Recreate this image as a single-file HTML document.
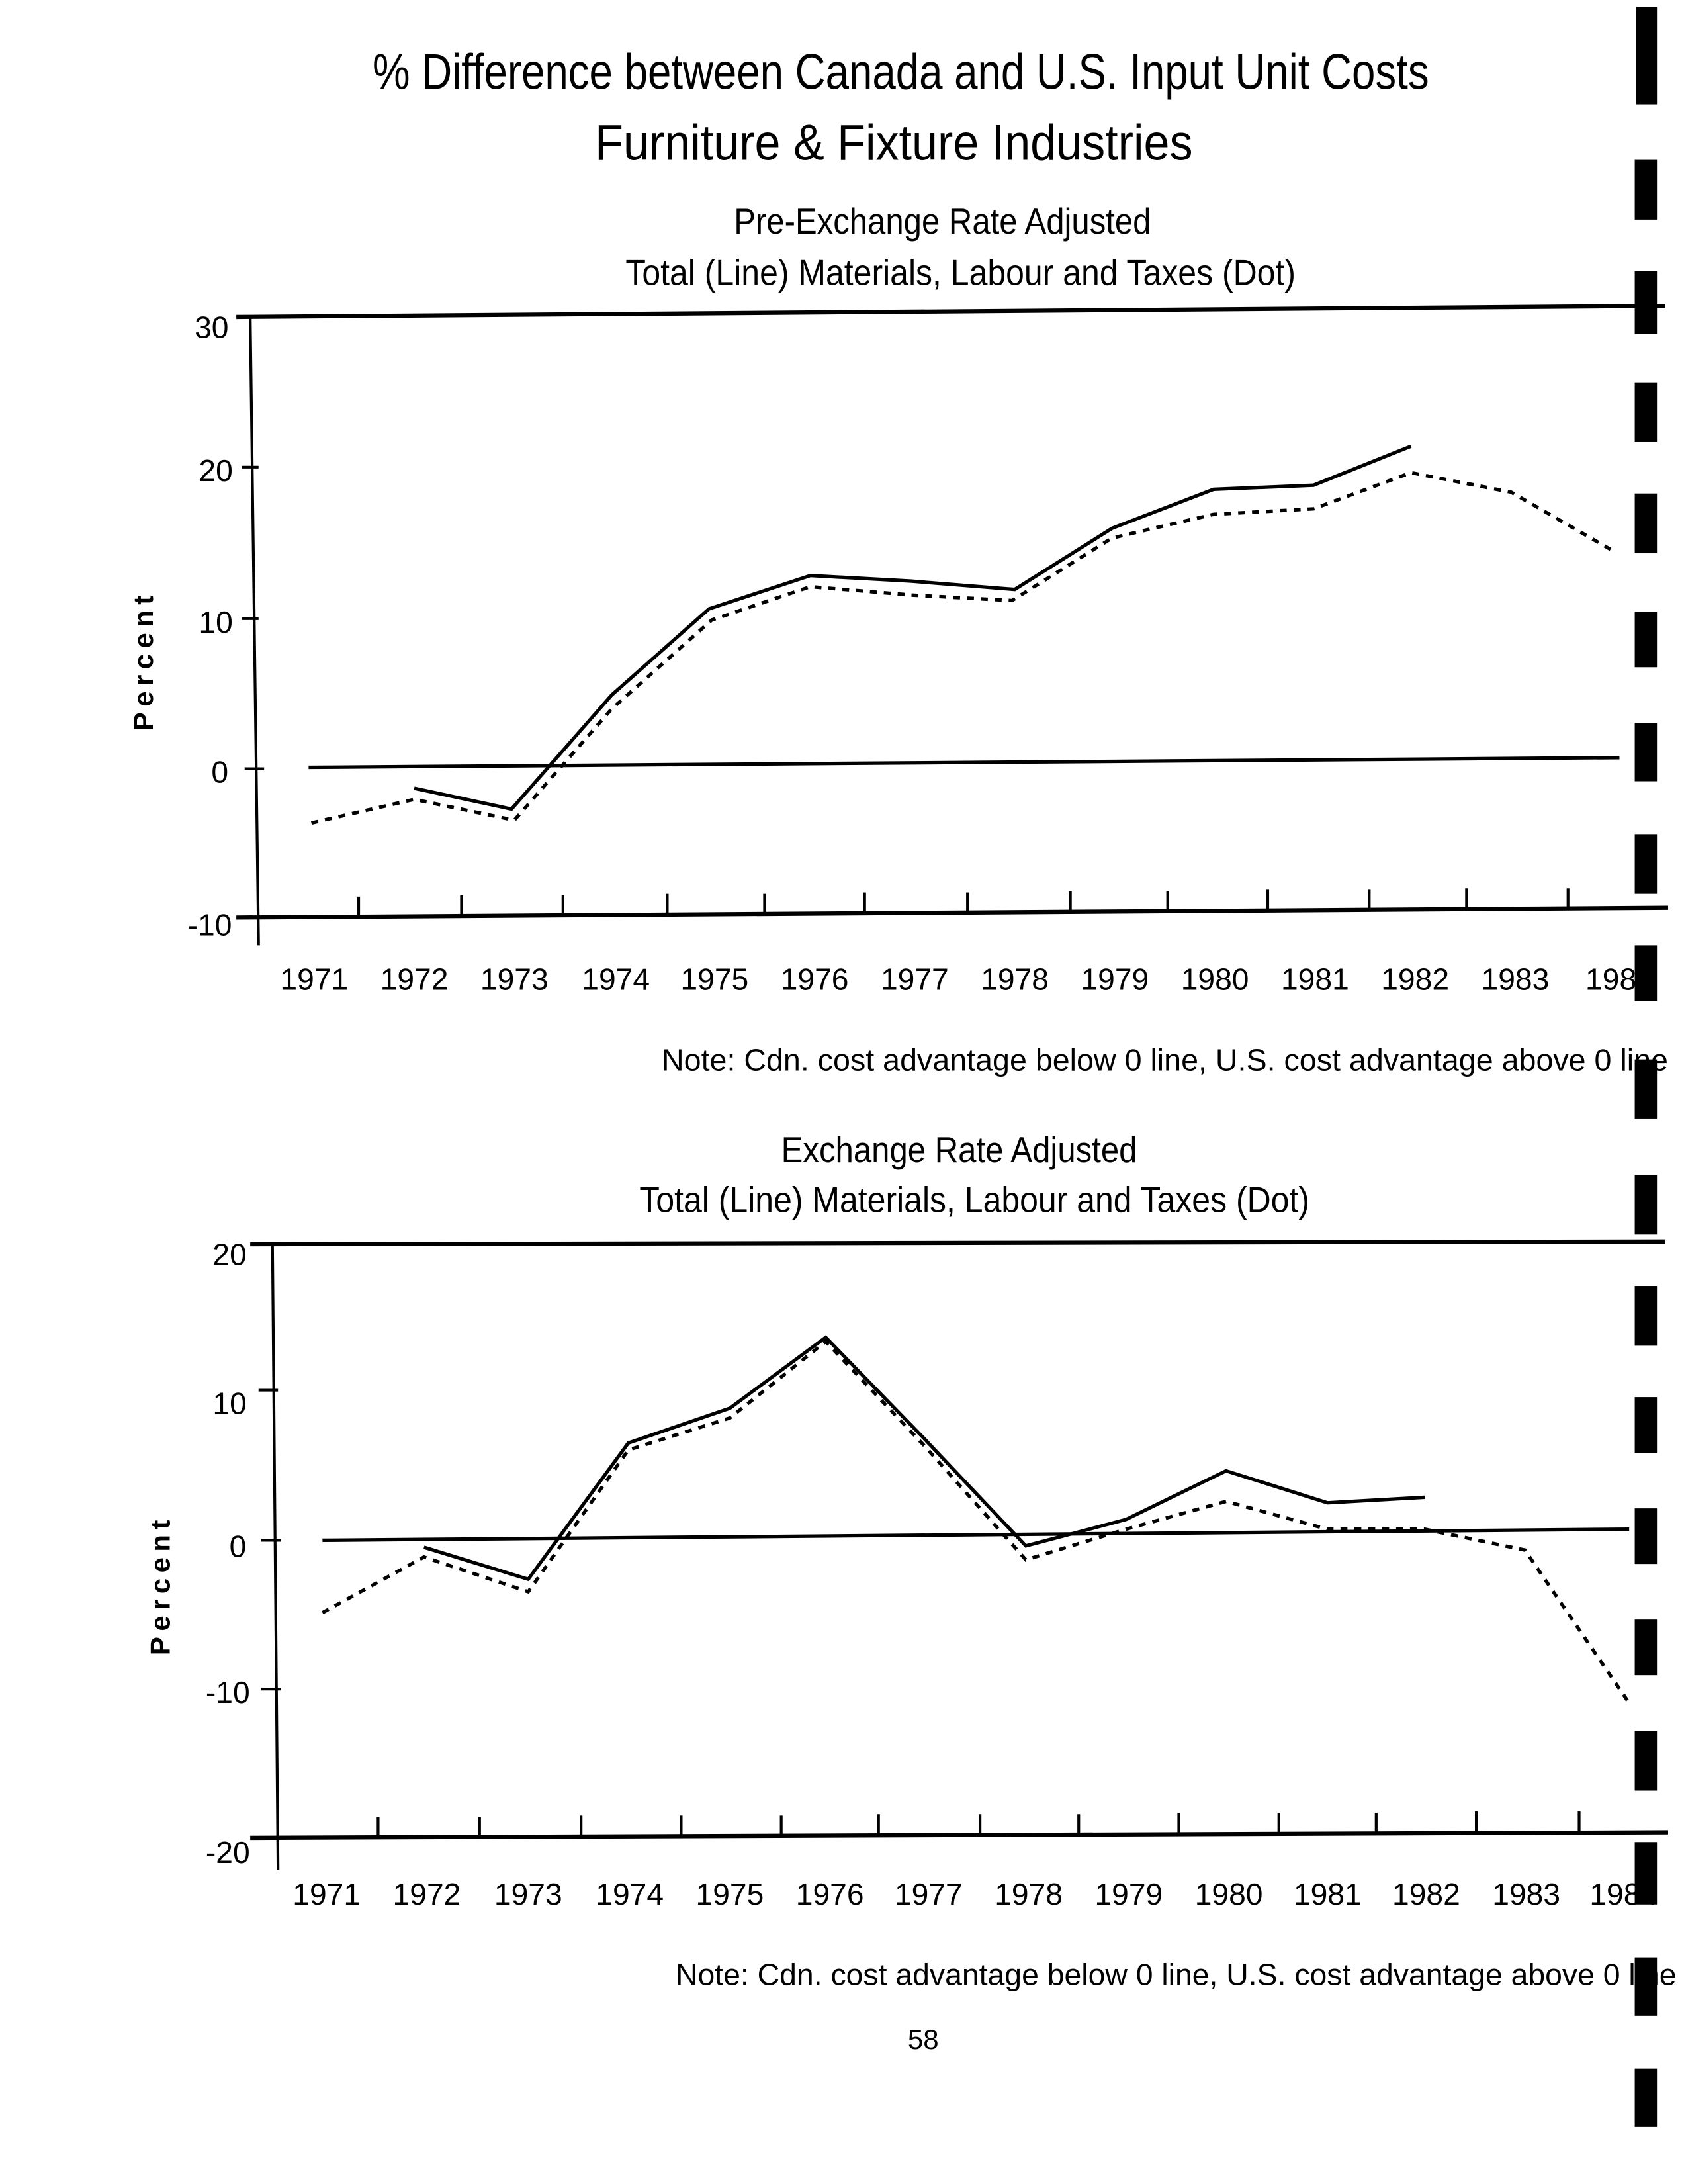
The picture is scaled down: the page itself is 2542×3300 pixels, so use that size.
<!DOCTYPE html>
<html><head><meta charset="utf-8"><style>
html,body{margin:0;padding:0;background:#fff;}
svg{display:block;}
text{font-family:"Liberation Sans Narrow","Liberation Sans",sans-serif;fill:#000;}
</style></head><body>
<svg width="2542" height="3300" viewBox="0 0 1210 1571" preserveAspectRatio="none" xmlns="http://www.w3.org/2000/svg">
<rect width="1210" height="1571" fill="#fff"/>
<!-- Titles -->
<text x="268" y="64" font-size="36" textLength="760" lengthAdjust="spacingAndGlyphs">% Difference between Canada and U.S. Input Unit Costs</text>
<text x="428" y="115" font-size="36" textLength="430" lengthAdjust="spacingAndGlyphs">Furniture &amp; Fixture Industries</text>
<text x="528" y="168" font-size="26" textLength="300" lengthAdjust="spacingAndGlyphs">Pre-Exchange Rate Adjusted</text>
<text x="450" y="205" font-size="26" textLength="482" lengthAdjust="spacingAndGlyphs">Total (Line)   Materials, Labour and Taxes (Dot)</text>

<!-- Top chart -->
<g stroke="#000" fill="none">
<line x1="170" y1="228" x2="1198" y2="220" stroke-width="3"/>
<line x1="170" y1="660" x2="1200" y2="653" stroke-width="3"/>
<line x1="180" y1="228" x2="186" y2="680" stroke-width="2"/>
<line x1="222" y1="552" x2="1165" y2="545" stroke-width="2.5"/>
<g stroke-width="2">
<line x1="174" y1="336" x2="186" y2="336"/><line x1="174" y1="445" x2="186" y2="445"/><line x1="176" y1="553" x2="190" y2="553"/>
<line x1="258" y1="660" x2="258" y2="645"/><line x1="332" y1="659" x2="332" y2="644"/><line x1="405" y1="659" x2="405" y2="644"/>
<line x1="480" y1="658" x2="480" y2="643"/><line x1="550" y1="658" x2="550" y2="643"/><line x1="622" y1="657" x2="622" y2="642"/>
<line x1="696" y1="657" x2="696" y2="642"/><line x1="770" y1="656" x2="770" y2="641"/><line x1="840" y1="656" x2="840" y2="641"/>
<line x1="912" y1="655" x2="912" y2="640"/><line x1="985" y1="655" x2="985" y2="640"/><line x1="1055" y1="654" x2="1055" y2="639"/><line x1="1128" y1="654" x2="1128" y2="639"/>
</g>
<polyline stroke-width="2.5" points="298,567 368,582 440,500 510,438 583,414 655,418 730,424 800,380 873,352 945,349 1015,321"/>
<polyline stroke-width="2.5" stroke-dasharray="5,5" points="224,592 298,575 370,590 440,510 512,446 583,422 655,428 728,432 800,387 873,370 945,366 1015,340 1087,354 1160,396"/>
</g>
<g font-size="22">
<text x="140" y="243">30</text><text x="143" y="346">20</text><text x="143" y="455">10</text><text x="152" y="563">0</text><text x="135" y="673">-10</text>
<text transform="translate(110,475) rotate(-90)" font-size="20" text-anchor="middle" font-weight="bold" letter-spacing="4">Percent</text>
</g>
<g font-size="22" text-anchor="middle">
<text x="226" y="712">1971</text><text x="298" y="712">1972</text><text x="370" y="712">1973</text><text x="443" y="712">1974</text><text x="514" y="712">1975</text><text x="586" y="712">1976</text><text x="658" y="712">1977</text><text x="730" y="712">1978</text><text x="802" y="712">1979</text><text x="874" y="712">1980</text><text x="946" y="712">1981</text><text x="1018" y="712">1982</text><text x="1090" y="712">1983</text><text x="1165" y="712">1984</text>
</g>
<text x="476" y="770" font-size="22" textLength="724" lengthAdjust="spacingAndGlyphs">Note: Cdn. cost advantage below 0 line, U.S. cost advantage above 0 line</text>

<!-- Bottom chart -->
<text x="562" y="836" font-size="26" textLength="256" lengthAdjust="spacingAndGlyphs">Exchange Rate Adjusted</text>
<text x="460" y="872" font-size="26" textLength="482" lengthAdjust="spacingAndGlyphs">Total (Line)   Materials, Labour and Taxes (Dot)</text>
<g stroke="#000" fill="none">
<line x1="180" y1="895" x2="1198" y2="893" stroke-width="3"/>
<line x1="180" y1="1322" x2="1200" y2="1318" stroke-width="3"/>
<line x1="196" y1="895" x2="200" y2="1345" stroke-width="2"/>
<line x1="232" y1="1108" x2="1172" y2="1100" stroke-width="2.5"/>
<g stroke-width="2">
<line x1="186" y1="1000" x2="200" y2="1000"/><line x1="188" y1="1108" x2="202" y2="1108"/><line x1="188" y1="1215" x2="202" y2="1215"/>
<line x1="272" y1="1322" x2="272" y2="1307"/><line x1="345" y1="1322" x2="345" y2="1307"/><line x1="418" y1="1321" x2="418" y2="1306"/>
<line x1="490" y1="1321" x2="490" y2="1306"/><line x1="562" y1="1321" x2="562" y2="1306"/><line x1="632" y1="1320" x2="632" y2="1305"/>
<line x1="705" y1="1320" x2="705" y2="1305"/><line x1="776" y1="1320" x2="776" y2="1305"/><line x1="848" y1="1319" x2="848" y2="1304"/>
<line x1="920" y1="1319" x2="920" y2="1304"/><line x1="990" y1="1319" x2="990" y2="1304"/><line x1="1062" y1="1318" x2="1062" y2="1303"/><line x1="1136" y1="1318" x2="1136" y2="1303"/>
</g>
<polyline stroke-width="2.5" points="305,1113 380,1136 452,1038 525,1013 594,962 665,1035 738,1112 810,1093 882,1058 955,1081 1025,1077"/>
<polyline stroke-width="2.5" stroke-dasharray="5,5" points="232,1160 305,1120 380,1145 452,1043 525,1020 594,965 665,1040 738,1122 810,1100 882,1080 955,1100 1025,1100 1097,1115 1172,1225"/>
</g>
<g font-size="22">
<text x="153" y="910">20</text><text x="153" y="1017">10</text><text x="165" y="1120">0</text><text x="148" y="1225">-10</text><text x="148" y="1340">-20</text>
<text transform="translate(122,1140) rotate(-90)" font-size="20" text-anchor="middle" font-weight="bold" letter-spacing="4">Percent</text>
</g>
<g font-size="22" text-anchor="middle">
<text x="235" y="1370">1971</text><text x="307" y="1370">1972</text><text x="380" y="1370">1973</text><text x="453" y="1370">1974</text><text x="525" y="1370">1975</text><text x="597" y="1370">1976</text><text x="668" y="1370">1977</text><text x="740" y="1370">1978</text><text x="812" y="1370">1979</text><text x="884" y="1370">1980</text><text x="955" y="1370">1981</text><text x="1026" y="1370">1982</text><text x="1098" y="1370">1983</text><text x="1168" y="1370">1984</text>
</g>
<text x="486" y="1428" font-size="22" textLength="720" lengthAdjust="spacingAndGlyphs">Note: Cdn. cost advantage below 0 line, U.S. cost advantage above 0 line</text>
<text x="653" y="1474" font-size="20">58</text>

<!-- right edge binder marks -->
<g fill="#000">
<rect x="1177" y="5" width="15" height="70"/><rect x="1176" y="115" width="16" height="43"/><rect x="1176" y="195" width="16" height="45"/>
<rect x="1176" y="275" width="16" height="43"/><rect x="1176" y="355" width="16" height="43"/><rect x="1176" y="440" width="16" height="40"/>
<rect x="1176" y="520" width="16" height="42"/><rect x="1176" y="600" width="16" height="43"/><rect x="1176" y="680" width="16" height="40"/>
<rect x="1176" y="762" width="16" height="43"/><rect x="1176" y="845" width="16" height="43"/><rect x="1176" y="925" width="16" height="43"/>
<rect x="1176" y="1005" width="16" height="40"/><rect x="1176" y="1085" width="16" height="40"/><rect x="1176" y="1165" width="16" height="40"/>
<rect x="1176" y="1245" width="16" height="43"/><rect x="1176" y="1325" width="16" height="45"/><rect x="1176" y="1408" width="16" height="42"/>
<rect x="1176" y="1488" width="16" height="42"/>
</g>
</svg>
</body></html>
